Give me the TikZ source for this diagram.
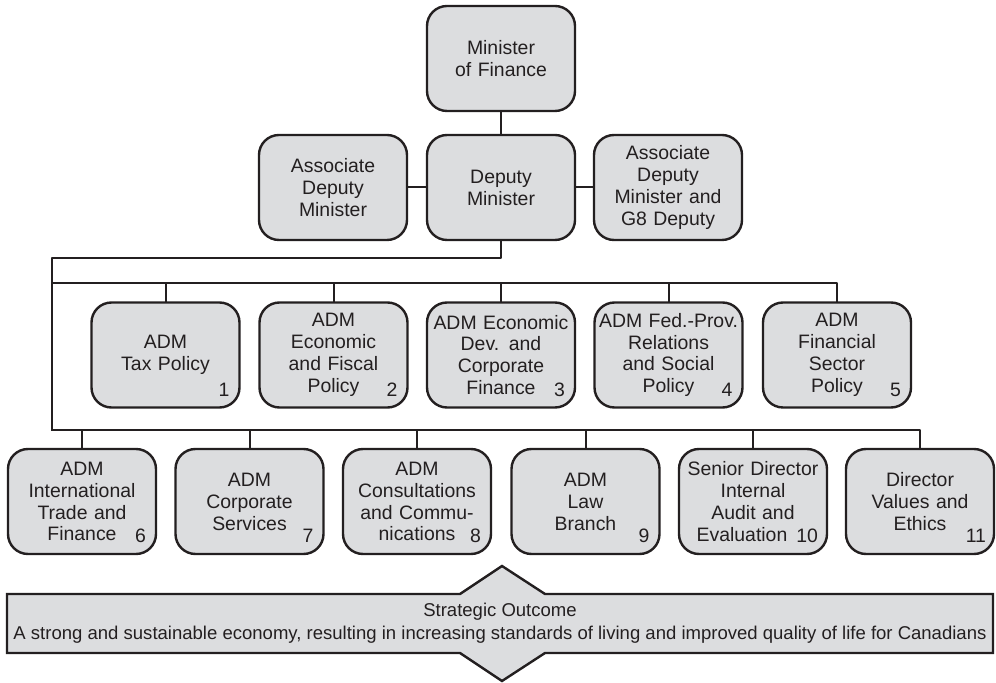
\documentclass[tikz,border=0pt]{standalone}
\usepackage{fontspec}
\setmainfont{Liberation Sans}
\usetikzlibrary{positioning}
\definecolor{boxfill}{HTML}{DCDDDF}
\definecolor{inkline}{HTML}{231F20}
\begin{document}
\begin{tikzpicture}[line join=round,
  orgbox/.style={draw=inkline,fill=boxfill,line width=2.4bp,rounded corners=20bp,
    minimum width=148bp,minimum height=105bp,text width=146bp,inner sep=0pt,
    align=center,text=inkline,font=\fontsize{19.5}{22}\selectfont},
  numlabel/.style={inner sep=0pt,text=inkline,font=\fontsize{19.5}{22}\selectfont},
  link/.style={draw=inkline,line width=2bp,line cap=rect},
]
\useasboundingbox (0bp,0bp) rectangle (996bp,683bp);
%%
\node (node_min) at (501bp,624.5bp) [orgbox] {Minister\\of Finance};
  \node (node_assoc) at (333bp,495.5bp) [orgbox] {Associate\\Deputy\\Minister};
  \node (node_dep) at (501bp,495.5bp) [orgbox] {Deputy\\Minister};
  \node (node_g8) at (668bp,495.5bp) [orgbox] {Associate\\Deputy\\Minister and\\G8 Deputy};
  \draw [link] (node_min) -- (node_dep);
  \draw [link] (node_assoc) -- (node_dep);
  \draw [link] (node_dep) -- (node_g8);
%
  \node (adm_1) at (165.5bp,328bp) [orgbox] {ADM\\Tax Policy};
  \node (adm_2) at (333.5bp,328bp) [orgbox] {ADM\\Economic\\and Fiscal\\Policy};
  \node (adm_3) at (501bp,328bp) [orgbox] {ADM Economic\\Dev. and\\Corporate\\Finance};
  \node (adm_4) at (668.5bp,328bp) [orgbox] {ADM Fed.-Prov.\\Relations\\and Social\\Policy};
  \node (adm_5) at (837bp,328bp) [orgbox] {ADM\\Financial\\Sector\\Policy};
  \node (adm_6) at (82bp,181.5bp) [orgbox] {ADM\\International\\Trade and\\Finance};
  \node (adm_7) at (249.5bp,181.5bp) [orgbox] {ADM\\Corporate\\Services};
  \node (adm_8) at (417bp,181.5bp) [orgbox] {ADM\\Consultations\\and Commu-\\nications};
  \node (adm_9) at (585.5bp,181.5bp) [orgbox] {ADM\\Law\\Branch};
  \node (adm_10) at (753bp,181.5bp) [orgbox] {Senior Director\\Internal\\Audit and\\Evaluation\kern22bp};
  \node (adm_11) at (920bp,181.5bp) [orgbox] {Director\\Values and\\Ethics};
%
  \node (num_1) [numlabel,above left=12bp and 11bp of adm_1.south east] {1};
  \node (num_2) [numlabel,above left=12bp and 11bp of adm_2.south east] {2};
  \node (num_3) [numlabel,above left=12bp and 11bp of adm_3.south east] {3};
  \node (num_4) [numlabel,above left=12bp and 11bp of adm_4.south east] {4};
  \node (num_5) [numlabel,above left=12bp and 11bp of adm_5.south east] {5};
  \node (num_6) [numlabel,above left=12bp and 11bp of adm_6.south east] {6};
  \node (num_7) [numlabel,above left=12bp and 11bp of adm_7.south east] {7};
  \node (num_8) [numlabel,above left=12bp and 11bp of adm_8.south east] {8};
  \node (num_9) [numlabel,above left=12bp and 11bp of adm_9.south east] {9};
  \node (num_10) [numlabel,above left=12bp and 10bp of adm_10.south east] {10};
  \node (num_11) [numlabel,above left=12bp and 9bp of adm_11.south east] {11};
%
  \coordinate (bus_top) at (52bp,425bp);
  \coordinate (bus_mid) at (52bp,400bp);
  \coordinate (bus_bot) at (52bp,253bp);
  \draw [link] (node_dep.south) |- (bus_top) -- (bus_bot);
  \draw [link] (bus_mid) -| (adm_1.north);
  \draw [link] (bus_mid) -| (adm_2.north);
  \draw [link] (bus_mid) -| (adm_3.north);
  \draw [link] (bus_mid) -| (adm_4.north);
  \draw [link] (bus_mid) -| (adm_5.north);
  \draw [link] (bus_bot) -| (adm_6.north);
  \draw [link] (bus_bot) -| (adm_7.north);
  \draw [link] (bus_bot) -| (adm_8.north);
  \draw [link] (bus_bot) -| (adm_9.north);
  \draw [link] (bus_bot) -| (adm_10.north);
  \draw [link] (bus_bot) -| (adm_11.north);
%
  \draw [draw=inkline,fill=boxfill,line width=2.4bp,line join=miter]
    (7bp,89bp) -- (460bp,89bp) -- (502bp,117bp) -- (545bp,89bp) -- (993bp,89bp)
    -- (993bp,30bp) -- (545bp,30bp) -- (502bp,2bp) -- (460bp,30bp) -- (7bp,30bp) -- cycle;
  \node (node_outcome) at (500bp,59.5bp) [align=center,inner sep=0pt,text=inkline,
    font=\fontsize{18.6}{23}\selectfont] {Strategic Outcome\\A strong and sustainable economy, resulting in increasing standards of living and improved quality of life for Canadians};
%
\end{tikzpicture}
\end{document}
